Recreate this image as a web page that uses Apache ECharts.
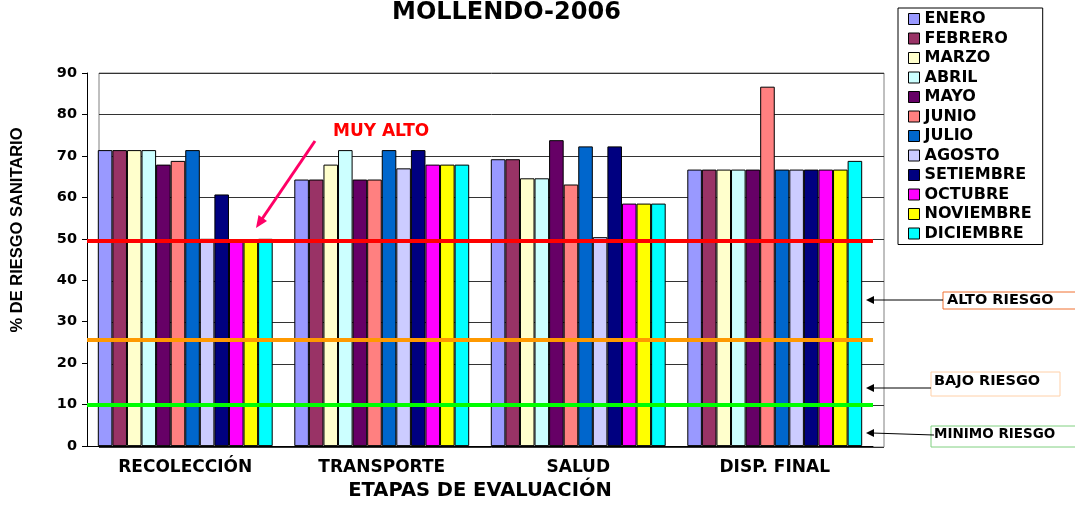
<!DOCTYPE html>
<html>
<head>
    <meta charset="utf-8">
    <title>MOLLENDO-2006</title>
    <script src="https://cdn.jsdelivr.net/npm/echarts/dist/echarts.min.js"></script>
</head>
<body style="margin:0">
<div id="main" style="width: 1075px; height: 506px;"></div>
<script>
    // etapas y meses
    var etapas = ['RECOLECCIÓN', 'TRANSPORTE', 'SALUD', 'DISP. FINAL'];
    var meses = ['ENERO', 'FEBRERO', 'MARZO', 'ABRIL', 'MAYO', 'JUNIO', 'JULIO',
        'AGOSTO', 'SETIEMBRE', 'OCTUBRE', 'NOVIEMBRE', 'DICIEMBRE'];
    var yTicks = [0, 10, 20, 30, 40, 50, 60, 70, 80, 90];

    // % de riesgo por etapa, un array por mes
    var enero = [71.4, 64.3, 69.2, 66.7];
    var febrero = [71.4, 64.3, 69.2, 66.7];
    var marzo = [71.4, 67.9, 64.6, 66.7];
    var abril = [71.4, 71.4, 64.6, 66.7];
    var mayo = [67.9, 64.3, 73.8, 66.7];
    var junio = [68.8, 64.3, 63.1, 86.7];
    var julio = [71.4, 71.4, 72.3, 66.7];
    var agosto = [50.0, 67.0, 50.4, 66.7];
    var setiembre = [60.7, 71.4, 72.3, 66.7];
    var octubre = [49.6, 67.9, 58.5, 66.7];
    var noviembre = [49.6, 67.9, 58.5, 66.7];
    var diciembre = [50.0, 67.9, 58.5, 68.8];
    var valores = [enero, febrero, marzo, abril, mayo, junio, julio,
        agosto, setiembre, octubre, noviembre, diciembre];

    var colores = ['#9999FF', '#993366', '#FFFFCC', '#CCFFFF', '#660066', '#FF8080',
        '#0066CC', '#CCCCFF', '#000080', '#FF00FF', '#FFFF00', '#00FFFF'];

    // niveles de riesgo (lineas horizontales)
    var niveles = [49.5, 25.6, 9.9];
    var nivelColores = ['#FF0000', '#FF9900', '#00FF00'];

    var bold = '"DejaVu Sans"';

    var series = [];
    for (var i = 0; i < meses.length; i++) {
        var s = {
            name: meses[i],
            type: 'bar',
            xAxisIndex: 0,
            yAxisIndex: 0,
            barGap: '0%',
            barCategoryGap: '11%',
            itemStyle: { color: colores[i], borderColor: '#000', borderWidth: 1 },
            data: valores[i]
        };
        if (i === 0) {
            s.markLine = {
                silent: true,
                symbol: 'none',
                label: { show: false },
                data: niveles.map(function (v, k) {
                    return { yAxis: v, lineStyle: { color: nivelColores[k], width: 4, type: 'solid' } };
                })
            };
        }
        series.push(s);
    }

    var myChart = echarts.init(document.getElementById('main'));

    var option = {
        animation: false,
        backgroundColor: '#fff',
        title: {
            text: 'MOLLENDO-2006',
            left: 392,
            top: 1,
            padding: 0,
            textStyle: { fontFamily: bold, fontWeight: 'bold', fontSize: 24, color: '#000' }
        },
        legend: {
            orient: 'vertical',
            left: 898,
            top: 8,
            padding: [3, 11, 3, 10],
            borderColor: '#000',
            borderWidth: 1,
            itemWidth: 11,
            itemHeight: 11,
            itemGap: 3.5,
            icon: 'rect',
            itemStyle: { borderColor: '#000', borderWidth: 1 },
            textStyle: { fontFamily: bold, fontWeight: 'bold', fontSize: 16, lineHeight: 14, color: '#000' },
            data: meses
        },
        grid: [
            { left: 87, right: 202, top: 73, bottom: 59 },
            { left: 99, right: 191, top: 73, bottom: 59, show: true, borderColor: '#808080', borderWidth: 1 }
        ],
        xAxis: [{
            type: 'category',
            gridIndex: 0,
            data: etapas,
            axisLine: { lineStyle: { color: '#000', width: 1 } },
            axisTick: { length: 5, lineStyle: { color: '#555' } },
            axisLabel: { margin: 13, fontFamily: bold, fontWeight: 'bold', fontSize: 17, color: '#000' },
            name: 'ETAPAS DE EVALUACIÓN',
            nameLocation: 'middle',
            nameGap: 32,
            nameTextStyle: { fontFamily: bold, fontWeight: 'bold', fontSize: 19.5, color: '#000' }
        }, {
            type: 'category',
            gridIndex: 1,
            data: etapas,
            show: false
        }],
        yAxis: [{
            type: 'value',
            gridIndex: 0,
            min: 0,
            max: 90,
            interval: 10,
            axisLine: { show: true, lineStyle: { color: '#000', width: 1 } },
            axisTick: { show: true, length: 5, lineStyle: { color: '#000' } },
            splitLine: { show: false },
            axisLabel: {
                margin: 10, fontFamily: bold, fontWeight: 'bold', fontSize: 14.5, color: '#000',
                formatter: function (v) { return yTicks.indexOf(v) >= 0 ? String(v) : ''; }
            }
        }, {
            type: 'value',
            gridIndex: 1,
            min: 0,
            max: 90,
            interval: 10,
            axisLine: { show: false },
            axisTick: { show: false },
            axisLabel: { show: false },
            splitLine: { show: true, lineStyle: { color: '#333', width: 1 } }
        }],
        graphic: [
            {
                type: 'text', x: 17, y: 230, rotation: Math.PI / 2,
                style: {
                    text: '% DE RIESGO SANITARIO', fill: '#000',
                    font: 'bold 16.5px "Liberation Sans"', textAlign: 'center', textVerticalAlign: 'middle'
                }
            },
            // MUY ALTO
            {
                type: 'text', x: 333, y: 132, z: 100,
                style: { text: 'MUY ALTO', fill: '#FF0000', font: 'bold 17px ' + bold, textVerticalAlign: 'middle' }
            },
            { type: 'line', z: 100, shape: { x1: 315, y1: 141, x2: 262, y2: 219 }, style: { stroke: '#FF0066', lineWidth: 3 } },
            { type: 'polygon', z: 100, shape: { points: [[256, 228], [267, 221], [258.5, 215]] }, style: { fill: '#FF0066' } },
            // ALTO RIESGO
            { type: 'rect', z: 100, shape: { x: 943, y: 292, width: 140, height: 17 }, style: { fill: '#fff', stroke: '#F07030', lineWidth: 1 } },
            {
                type: 'text', x: 947, y: 300.5, z: 101,
                style: { text: 'ALTO RIESGO', fill: '#000', font: 'bold 14.5px ' + bold, textVerticalAlign: 'middle' }
            },
            { type: 'line', z: 100, shape: { x1: 943, y1: 300, x2: 872, y2: 300 }, style: { stroke: '#000', lineWidth: 1 } },
            { type: 'polygon', z: 100, shape: { points: [[866, 300], [874, 296], [874, 304]] }, style: { fill: '#000' } },
            // BAJO RIESGO
            { type: 'rect', z: 100, shape: { x: 931, y: 372, width: 129, height: 24 }, style: { fill: '#fff', stroke: '#FFD0A8', lineWidth: 1 } },
            {
                type: 'text', x: 934, y: 381.5, z: 101,
                style: { text: 'BAJO RIESGO', fill: '#000', font: 'bold 14.5px ' + bold, textVerticalAlign: 'middle' }
            },
            { type: 'line', z: 100, shape: { x1: 931, y1: 388, x2: 872, y2: 388 }, style: { stroke: '#000', lineWidth: 1 } },
            { type: 'polygon', z: 100, shape: { points: [[866, 388], [874, 384], [874, 392]] }, style: { fill: '#000' } },
            // MINIMO RIESGO
            { type: 'rect', z: 100, shape: { x: 931, y: 426, width: 150, height: 21 }, style: { fill: '#fff', stroke: '#80D080', lineWidth: 1 } },
            {
                type: 'text', x: 934, y: 434.5, z: 101,
                style: { text: 'MINIMO RIESGO', fill: '#000', font: 'bold 13.5px ' + bold, textVerticalAlign: 'middle' }
            },
            { type: 'line', z: 100, shape: { x1: 934, y1: 435, x2: 872, y2: 433 }, style: { stroke: '#000', lineWidth: 1 } },
            { type: 'polygon', z: 100, shape: { points: [[866, 433], [874, 429], [874, 437]] }, style: { fill: '#000' } }
        ],
        series: series
    };

    myChart.setOption(option);
</script>
</body>
</html>
